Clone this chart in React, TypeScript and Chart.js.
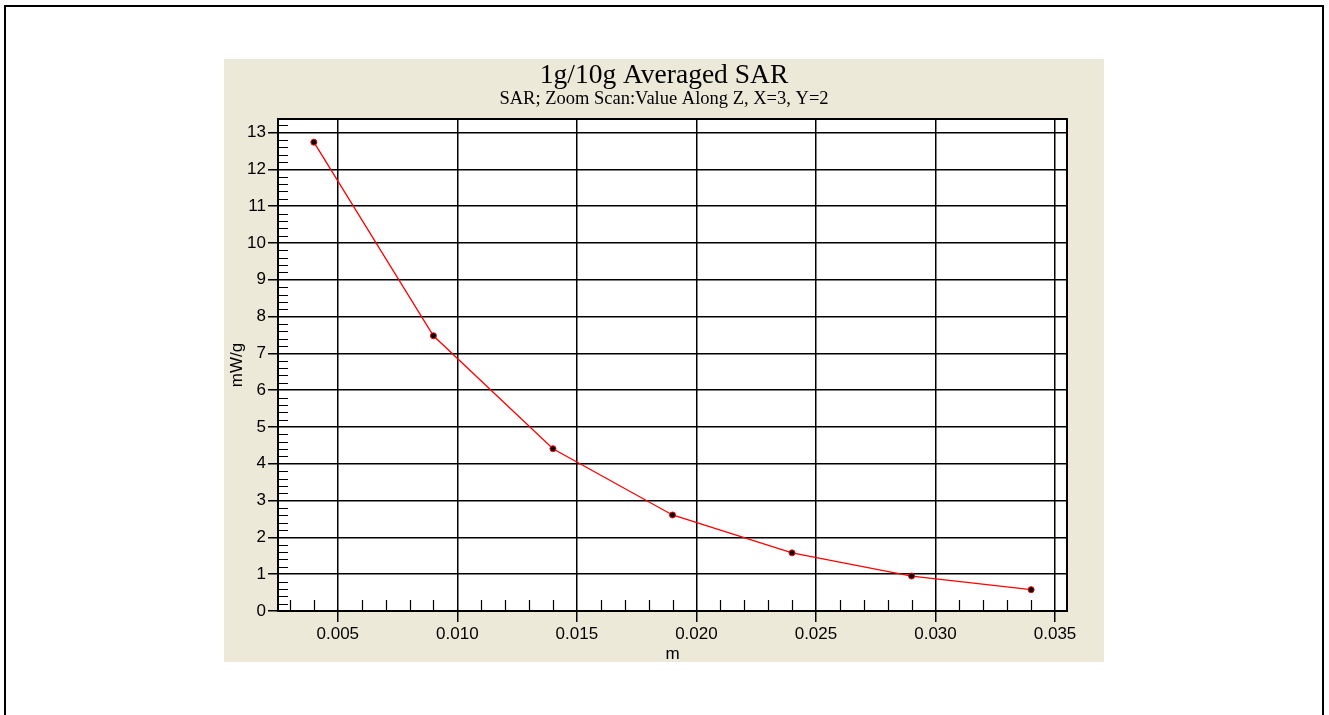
import React, { useEffect, useRef } from 'react';
import { Chart, registerables } from 'chart.js';

Chart.register(...registerables);

const positions = [0.004, 0.009, 0.014, 0.019, 0.024, 0.029, 0.034];
const sarValues = [12.74, 7.48, 4.41, 2.61, 1.58, 0.95, 0.58];
const xMajorTicks = [0.005, 0.01, 0.015, 0.02, 0.025, 0.03, 0.035];
const yMajorTicks = [0, 1, 2, 3, 4, 5, 6, 7, 8, 9, 10, 11, 12, 13];
const titleText = '1g/10g Averaged SAR';
const subtitleText = 'SAR; Zoom Scan:Value Along Z, X=3, Y=2';
const xAxisLabel = 'm';
const yAxisLabel = 'mW/g';

const W = 1329;
const H = 715;
const PANEL = { left: 224, top: 59, right: 1104, bottom: 662 };
const BEIGE = '#ECE9D8';
const SANS = '"Liberation Sans", Arial, sans-serif';
const SERIF = '"Liberation Serif", "Times New Roman", serif';

const decorPlugin = {
  id: 'decor',
  beforeDraw(chart: any) {
    const ctx = chart.ctx;
    const ca = chart.chartArea;
    ctx.save();
    ctx.fillStyle = '#ffffff';
    ctx.fillRect(0, 0, W, H);
    ctx.strokeStyle = '#000000';
    ctx.lineWidth = 2;
    ctx.strokeRect(5, 6, 1318, 720);
    ctx.fillStyle = BEIGE;
    ctx.fillRect(PANEL.left, PANEL.top, PANEL.right - PANEL.left, PANEL.bottom - PANEL.top);
    ctx.fillStyle = '#ffffff';
    ctx.fillRect(ca.left, ca.top, ca.right - ca.left, ca.bottom - ca.top);
    ctx.restore();
  },
  beforeDatasetsDraw(chart: any) {
    const ctx = chart.ctx;
    const ca = chart.chartArea;
    const xs = chart.scales.x;
    const ys = chart.scales.y;
    ctx.save();
    ctx.strokeStyle = '#000000';
    ctx.lineWidth = 1.2;
    ctx.beginPath();
    for (let i = 3; i <= 35; i++) {
      if (i % 5 === 0) continue;
      const px = Math.round(xs.getPixelForValue(i / 1000)) + 0.5;
      ctx.moveTo(px, ca.bottom);
      ctx.lineTo(px, ca.bottom - 11);
    }
    for (let j = 1; j <= 66; j++) {
      if (j % 5 === 0) continue;
      const py = Math.round(ys.getPixelForValue(j / 5)) + 0.5;
      ctx.moveTo(ca.left, py);
      ctx.lineTo(ca.left + 10, py);
    }
    ctx.stroke();
    ctx.lineWidth = 2;
    ctx.strokeRect(ca.left, ca.top, ca.right - ca.left, ca.bottom - ca.top);
    ctx.restore();
  },
  afterDraw(chart: any) {
    const ctx = chart.ctx;
    const cx = (PANEL.left + PANEL.right) / 2;
    ctx.save();
    ctx.fillStyle = '#000000';
    ctx.textAlign = 'center';
    ctx.textBaseline = 'alphabetic';
    ctx.font = `27.5px ${SERIF}`;
    ctx.fillText(titleText, cx, 83);
    ctx.font = `18.5px ${SERIF}`;
    ctx.fillText(subtitleText, cx, 104);
    ctx.restore();
  },
};

export default function App() {
  const ref = useRef<HTMLCanvasElement | null>(null);
  useEffect(() => {
    if (!ref.current) return;
    const chart = new Chart(ref.current, {
      type: 'line',
      data: {
        datasets: [
          {
            data: positions.map((x, i) => ({ x, y: sarValues[i] })),
            borderColor: '#ff0000',
            borderWidth: 1.3,
            pointRadius: 3,
            pointBackgroundColor: '#000000',
            pointBorderColor: '#ff0000',
            pointBorderWidth: 1,
            tension: 0,
            fill: false,
          },
        ],
      },
      options: {
        animation: false,
        responsive: false,
        devicePixelRatio: 1,
        layout: { padding: { left: 224, right: 262, top: 119, bottom: 50 } },
        plugins: { legend: { display: false }, tooltip: { enabled: false }, title: { display: false } },
        scales: {
          x: {
            type: 'linear',
            min: 0.0025,
            max: 0.0355,
            afterBuildTicks: (s: any) => {
              s.ticks = xMajorTicks.map((v) => ({ value: v }));
            },
            afterFit: (s: any) => {
              s.height = 54;
            },
            ticks: {
              callback: (v: any) => Number(v).toFixed(3),
              color: '#000000',
              font: { family: SANS, size: 17 },
              padding: 2,
              maxRotation: 0,
              autoSkip: false,
            },
            grid: { color: '#000000', lineWidth: 1.5, drawTicks: true, tickLength: 11, tickColor: '#000000' },
            border: { display: true, color: '#000000', width: 2 },
            title: { display: true, text: xAxisLabel, color: '#000000', font: { family: SANS, size: 17 }, padding: 0 },
          },
          y: {
            type: 'linear',
            min: 0,
            max: 13.37,
            afterBuildTicks: (s: any) => {
              s.ticks = yMajorTicks.map((v) => ({ value: v }));
            },
            afterFit: (s: any) => {
              s.width = 54;
            },
            ticks: {
              callback: (v: any) => String(v),
              color: '#000000',
              font: { family: SANS, size: 17 },
              padding: 2,
              autoSkip: false,
            },
            grid: { color: '#000000', lineWidth: 1.5, drawTicks: true, tickLength: 10, tickColor: '#000000' },
            border: { display: true, color: '#000000', width: 2 },
            title: { display: true, text: yAxisLabel, color: '#000000', font: { family: SANS, size: 17 }, padding: 3 },
          },
        },
      },
      plugins: [decorPlugin],
    });
    return () => chart.destroy();
  }, []);
  return (
    <div style={{ position: 'fixed', left: 0, top: 0, width: W, height: H }}>
      <canvas ref={ref} width={W} height={H} style={{ width: W, height: H, display: 'block' }} />
    </div>
  );
}
